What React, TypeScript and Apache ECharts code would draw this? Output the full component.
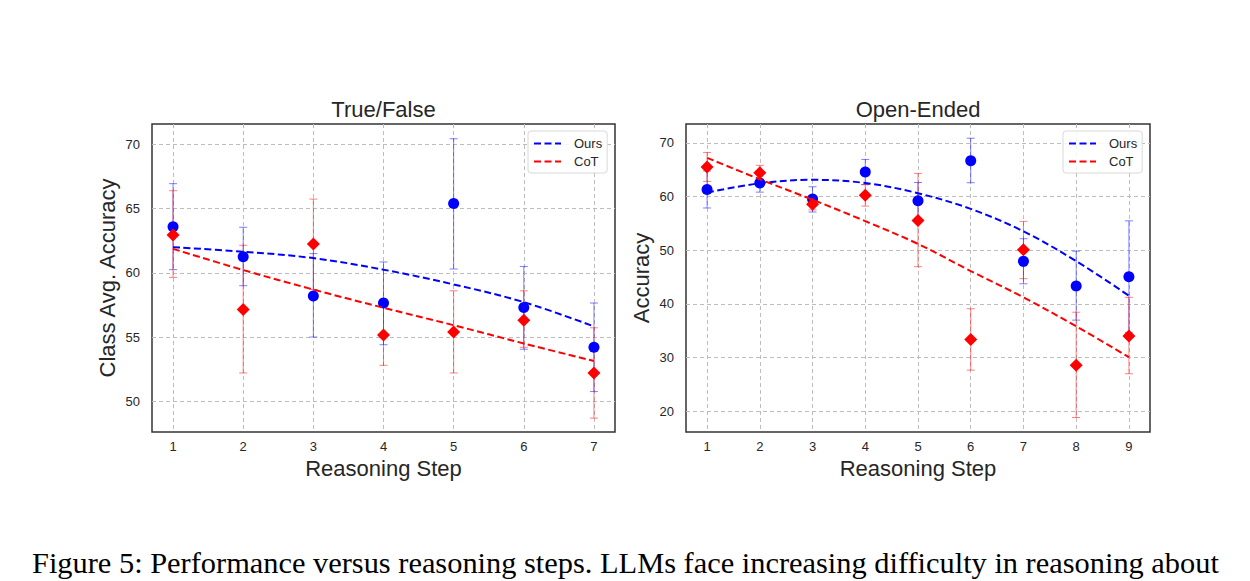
import React, { useEffect, useRef } from "react";
import * as echarts from "echarts";

// ---- Data ----
const tfSteps = [1, 2, 3, 4, 5, 6, 7];
const tfOurs = [63.6, 61.25, 58.2, 57.65, 65.4, 57.3, 54.2];
const tfOursLow = [60.25, 59.0, 55.0, 54.4, 60.3, 54.05, 50.75];
const tfOursHigh = [66.95, 63.55, 61.5, 60.85, 70.45, 60.5, 57.65];
const tfCot = [62.95, 57.15, 62.25, 55.15, 55.4, 56.3, 52.2];
const tfCotLow = [59.65, 52.2, 58.7, 52.8, 52.2, 54.2, 48.68];
const tfCotHigh = [66.4, 62.15, 65.75, 57.4, 58.6, 58.6, 55.72];
const tfOursFit = [62.0, 61.65, 61.15, 60.25, 59.1, 57.72, 55.83];
const tfCotFit = [61.87, 60.22, 58.7, 57.28, 55.92, 54.5, 53.13];

const oeSteps = [1, 2, 3, 4, 5, 6, 7, 8, 9];
const oeOurs = [61.3, 62.5, 59.5, 64.55, 59.2, 66.65, 47.9, 43.3, 45.05];
const oeOursLow = [57.85, 60.8, 57.1, 62.2, 55.8, 62.55, 43.72, 36.95, 34.6];
const oeOursHigh = [64.75, 64.2, 61.8, 66.9, 62.6, 70.85, 52.12, 49.8, 55.45];
const oeCot = [65.5, 64.4, 58.55, 60.2, 55.5, 33.35, 50.06, 28.55, 34.0];
const oeCotLow = [62.8, 63.0, 57.5, 58.2, 46.9, 27.62, 44.67, 18.8, 26.95];
const oeCotHigh = [68.2, 65.8, 59.6, 62.2, 64.3, 39.07, 55.35, 38.42, 41.2];
const oeOursFit = [60.72, 62.45, 63.1, 62.5, 60.6, 57.68, 53.5, 47.95, 41.5];
const oeCotFit = [67.2, 63.2, 59.4, 55.4, 51.15, 46.1, 41.2, 35.8, 30.05];

const seriesNames = ["Ours", "CoT"];
const panelTitles = ["True/False", "Open-Ended"];
const yAxisNames = ["Class Avg. Accuracy", "Accuracy"];
const xAxisName = "Reasoning Step";
const caption =
  "Figure 5: Performance versus reasoning steps. LLMs face increasing difficulty in reasoning about";

const BLUE = "#0000ff";
const RED = "#ff0000";
const TEXT = "#262626";
const FONT = "Liberation Sans, Arial, sans-serif";

function errData(steps: number[], lo: number[], hi: number[]) {
  return steps.map((s, i) => [s, lo[i], hi[i]]);
}
function pts(steps: number[], v: number[]) {
  return steps.map((s, i) => [s, v[i]]);
}

function errSeries(idx: number, data: number[][], color: string, z: number) {
  return {
    type: "custom",
    xAxisIndex: idx,
    yAxisIndex: idx,
    z,
    silent: true,
    encode: { x: 0, y: [1, 2] },
    data,
    renderItem: (params: any, api: any) => {
      const x = api.value(0);
      const top = api.coord([x, api.value(2)]);
      const bot = api.coord([x, api.value(1)]);
      const cap = 4;
      const st = { stroke: color, lineWidth: 1 };
      return {
        type: "group",
        children: [
          { type: "line", shape: { x1: top[0], y1: top[1], x2: bot[0], y2: bot[1] }, style: st },
          { type: "line", shape: { x1: top[0] - cap, y1: top[1], x2: top[0] + cap, y2: top[1] }, style: st },
          { type: "line", shape: { x1: bot[0] - cap, y1: bot[1], x2: bot[0] + cap, y2: bot[1] }, style: st },
        ],
      };
    },
  };
}

function scatterSeries(idx: number, data: number[][], color: string, symbol: string, size: number, z: number) {
  return {
    type: "scatter",
    xAxisIndex: idx,
    yAxisIndex: idx,
    symbol,
    symbolSize: size,
    itemStyle: { color, opacity: 1 },
    z,
    silent: true,
    data,
  };
}

function fitSeries(idx: number, name: string, data: number[][], color: string, z: number) {
  return {
    type: "line",
    name,
    xAxisIndex: idx,
    yAxisIndex: idx,
    data,
    smooth: 0.35,
    symbol: "none",
    showSymbol: false,
    z,
    lineStyle: { color, width: 2, type: [7, 3.5] },
    itemStyle: { color },
    silent: true,
  };
}

const grids = [
  { left: 152, top: 124, width: 463, height: 308 },
  { left: 686, top: 124, width: 464, height: 308 },
];
const xRanges = [
  [0.7, 7.3],
  [0.6, 9.4],
];
const yRanges = [
  [47.6, 71.6, 5],
  [16.1, 73.5, 10],
];

export default function App() {
  const ref = useRef<HTMLDivElement>(null);
  useEffect(() => {
    if (!ref.current) return;
    const chart = echarts.init(ref.current, undefined, { renderer: "svg" });
    const splitLine = {
      show: true,
      showMinLine: false,
      showMaxLine: false,
      lineStyle: { color: "#bdbdbd", width: 1, type: [4, 3] },
    };
    const option: any = {
      animation: false,
      backgroundColor: "#ffffff",
      grid: grids.map((g) => ({
        ...g,
        show: true,
        borderColor: "#333333",
        borderWidth: 1.5,
        backgroundColor: "#ffffff",
        containLabel: false,
      })),
      xAxis: xRanges.map((r, i) => ({
        type: "value",
        gridIndex: i,
        min: r[0],
        max: r[1],
        minInterval: 1,
        maxInterval: 1,
        name: xAxisName,
        nameLocation: "middle",
        nameGap: 24,
        nameTextStyle: { fontSize: 22, color: TEXT, fontFamily: FONT },
        axisLine: { show: false },
        axisTick: { show: false },
        axisLabel: {
          margin: 8,
          fontSize: 13,
          color: TEXT,
          fontFamily: FONT,
          formatter: (v: number) => (Math.abs(v - Math.round(v)) < 1e-6 ? String(Math.round(v)) : ""),
        },
        splitLine,
      })),
      yAxis: yRanges.map((r, i) => ({
        type: "value",
        gridIndex: i,
        min: r[0],
        max: r[1],
        minInterval: r[2],
        maxInterval: r[2],
        name: yAxisNames[i],
        nameLocation: "middle",
        nameGap: 34,
        nameTextStyle: { fontSize: 22, color: TEXT, fontFamily: FONT },
        axisLine: { show: false },
        axisTick: { show: false },
        axisLabel: {
          margin: 12,
          fontSize: 13,
          color: TEXT,
          fontFamily: FONT,
          formatter: (v: number) =>
            Math.abs(v / r[2] - Math.round(v / r[2])) < 1e-6 ? String(Math.round(v)) : "",
        },
        splitLine,
      })),
      legend: [
        { left: 528, top: 131 },
        { left: 1063, top: 131 },
      ].map((p) => ({
        ...p,
        data: seriesNames,
        orient: "vertical",
        itemWidth: 27,
        itemHeight: 14,
        itemGap: 5,
        padding: [6, 5, 5, 5],
        backgroundColor: "rgba(255,255,255,0.85)",
        borderColor: "#d9d9d9",
        borderWidth: 1,
        borderRadius: 3,
        selectedMode: false,
        itemStyle: { opacity: 0 },
        lineStyle: { width: 2 },
        textStyle: { fontSize: 13, color: TEXT, fontFamily: FONT, padding: [0, 0, 0, 8] },
      })),
      graphic: [
        {
          type: "text",
          x: 383.5,
          y: 109.5,
          style: { text: panelTitles[0], fontSize: 22, fill: TEXT, fontFamily: FONT, align: "center", verticalAlign: "middle" },
        },
        {
          type: "text",
          x: 918,
          y: 109.5,
          style: { text: panelTitles[1], fontSize: 22, fill: TEXT, fontFamily: FONT, align: "center", verticalAlign: "middle" },
        },
        {
          type: "text",
          x: 32,
          y: 563,
          style: {
            text: caption,
            fontSize: 30.4,
            fill: "#000000",
            fontFamily: "Liberation Serif, Times New Roman, serif",
            align: "left",
            verticalAlign: "middle",
          },
        },
      ],
      series: [
        errSeries(0, errData(tfSteps, tfOursLow, tfOursHigh), "rgba(0,0,255,0.5)", 2),
        errSeries(0, errData(tfSteps, tfCotLow, tfCotHigh), "rgba(255,0,0,0.5)", 2),
        scatterSeries(0, pts(tfSteps, tfOurs), BLUE, "circle", 11, 3),
        scatterSeries(0, pts(tfSteps, tfCot), RED, "diamond", 13, 3),
        fitSeries(0, "Ours", pts(tfSteps, tfOursFit), BLUE, 4),
        fitSeries(0, "CoT", pts(tfSteps, tfCotFit), RED, 4),
        errSeries(1, errData(oeSteps, oeOursLow, oeOursHigh), "rgba(0,0,255,0.5)", 2),
        errSeries(1, errData(oeSteps, oeCotLow, oeCotHigh), "rgba(255,0,0,0.5)", 2),
        scatterSeries(1, pts(oeSteps, oeOurs), BLUE, "circle", 11, 3),
        scatterSeries(1, pts(oeSteps, oeCot), RED, "diamond", 13, 3),
        fitSeries(1, "Ours", pts(oeSteps, oeOursFit), BLUE, 4),
        fitSeries(1, "CoT", pts(oeSteps, oeCotFit), RED, 4),
      ],
    };
    chart.setOption(option);
    return () => chart.dispose();
  }, []);
  return (
    <div
      ref={ref}
      style={{ position: "fixed", left: 0, top: 0, width: 1250, height: 581, background: "#fff" }}
    />
  );
}
